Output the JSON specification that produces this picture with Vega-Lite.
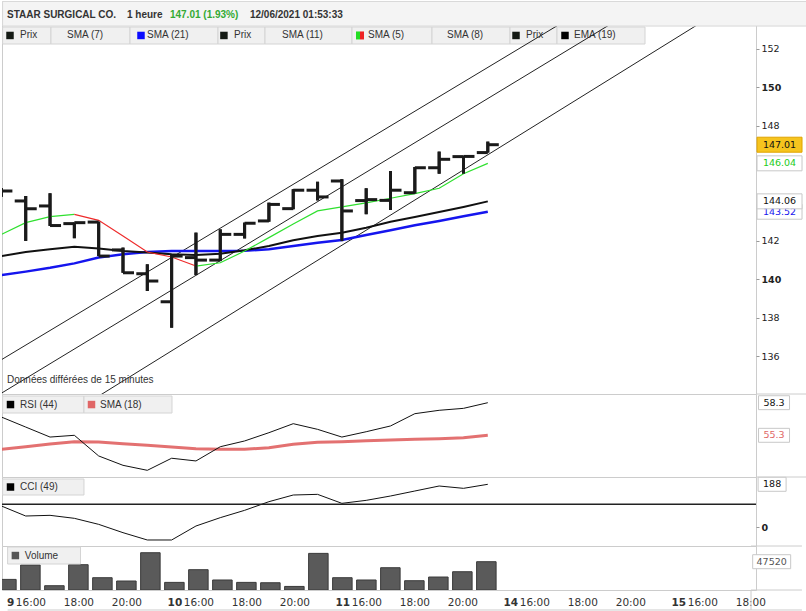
{
"$schema":"https://vega.github.io/schema/vega-lite/v6.json",
"background":"#ffffff",
"padding":0,
"spacing":0,
"bounds":"flush",
"config":{"view":{"stroke":"#cccccc"},"axis":{"grid":false},"text":{"font":"Liberation Sans"}},
"datasets":{
"ohlc":[
{"i":0,"o":144.5,"h":144.75,"l":144.3,"c":144.6},
{"i":1,"o":144.08,"h":144.34,"l":142.0,"c":143.68},
{"i":2,"o":143.82,"h":144.48,"l":142.78,"c":142.8},
{"i":3,"o":142.9,"h":142.95,"l":142.14,"c":142.95},
{"i":4,"o":142.98,"h":143.0,"l":141.21,"c":141.21},
{"i":5,"o":141.53,"h":141.65,"l":140.34,"c":140.34},
{"i":6,"o":140.29,"h":140.78,"l":139.39,"c":139.91},
{"i":7,"o":138.83,"h":141.3,"l":137.48,"c":141.21},
{"i":8,"o":141.13,"h":142.43,"l":140.22,"c":141.0},
{"i":9,"o":141.0,"h":142.6,"l":140.95,"c":142.34},
{"i":10,"o":142.34,"h":142.95,"l":142.13,"c":142.92},
{"i":11,"o":143.04,"h":143.99,"l":143.0,"c":143.9},
{"i":12,"o":143.68,"h":144.69,"l":143.65,"c":144.64},
{"i":13,"o":144.64,"h":145.08,"l":144.11,"c":144.29},
{"i":14,"o":145.12,"h":145.21,"l":141.99,"c":143.56},
{"i":15,"o":144.1,"h":144.74,"l":143.39,"c":144.15},
{"i":16,"o":144.11,"h":145.64,"l":143.61,"c":144.64},
{"i":17,"o":144.51,"h":145.85,"l":144.46,"c":145.81},
{"i":18,"o":145.81,"h":146.65,"l":145.5,"c":146.25},
{"i":19,"o":146.39,"h":146.42,"l":145.5,"c":146.4},
{"i":20,"o":146.6,"h":147.17,"l":146.6,"c":147.01}
],
"ma":[
{"i":0,"sma21":140.22,"ema19":141.21},
{"i":1,"sma21":140.4,"ema19":141.42},
{"i":2,"sma21":140.6,"ema19":141.56},
{"i":3,"sma21":140.83,"ema19":141.7},
{"i":4,"sma21":141.13,"ema19":141.61},
{"i":5,"sma21":141.3,"ema19":141.47},
{"i":6,"sma21":141.42,"ema19":141.39},
{"i":7,"sma21":141.47,"ema19":141.3},
{"i":8,"sma21":141.47,"ema19":141.27},
{"i":9,"sma21":141.47,"ema19":141.33},
{"i":10,"sma21":141.49,"ema19":141.51},
{"i":11,"sma21":141.56,"ema19":141.73},
{"i":12,"sma21":141.73,"ema19":142.03},
{"i":13,"sma21":141.9,"ema19":142.26},
{"i":14,"sma21":142.05,"ema19":142.43},
{"i":15,"sma21":142.31,"ema19":142.69},
{"i":16,"sma21":142.55,"ema19":143.0},
{"i":17,"sma21":142.81,"ema19":143.24},
{"i":18,"sma21":143.04,"ema19":143.5},
{"i":19,"sma21":143.28,"ema19":143.77},
{"i":20,"sma21":143.52,"ema19":144.06}
],
"sma5":[
{"seg":"g1","i":0,"v":142.34},{"seg":"g1","i":1,"v":142.95},{"seg":"g1","i":2,"v":143.26},{"seg":"g1","i":3,"v":143.38},
{"seg":"r","i":3,"v":143.38},{"seg":"r","i":4,"v":143.07},{"seg":"r","i":5,"v":142.26},{"seg":"r","i":6,"v":141.42},{"seg":"r","i":7,"v":141.16},{"seg":"r","i":8,"v":140.69},
{"seg":"g2","i":8,"v":140.69},{"seg":"g2","i":9,"v":140.86},{"seg":"g2","i":10,"v":141.47},{"seg":"g2","i":11,"v":142.17},{"seg":"g2","i":12,"v":142.88},{"seg":"g2","i":13,"v":143.56},{"seg":"g2","i":14,"v":143.77},{"seg":"g2","i":15,"v":143.98},{"seg":"g2","i":16,"v":144.22},{"seg":"g2","i":17,"v":144.46},{"seg":"g2","i":18,"v":144.74},{"seg":"g2","i":19,"v":145.5},{"seg":"g2","i":20,"v":146.04}
],
"chan":[
{"line":"U","i":-1,"p":135.05},{"line":"U","i":24,"p":154.08},
{"line":"M","i":-1,"p":133.3},{"line":"M","i":26,"p":154.02},
{"line":"L","i":-1,"p":129.99},{"line":"L","i":30,"p":154.34}
],
"ind":[
{"i":0,"rsi":56.98,"rsisma":54.01,"cci":92.5,"vol":17800},
{"i":1,"rsi":56.06,"rsisma":54.25,"cci":48.4,"vol":42000},
{"i":2,"rsi":55.14,"rsisma":54.5,"cci":51.4,"vol":7200},
{"i":3,"rsi":55.3,"rsisma":54.71,"cci":38.2,"vol":42500},
{"i":4,"rsi":53.4,"rsisma":54.68,"cci":11.7,"vol":20650},
{"i":5,"rsi":52.54,"rsisma":54.53,"cci":-24.9,"vol":15100},
{"i":6,"rsi":52.08,"rsisma":54.38,"cci":-57.2,"vol":62600},
{"i":7,"rsi":53.19,"rsisma":54.22,"cci":-57.2,"vol":12800},
{"i":8,"rsi":52.94,"rsisma":54.07,"cci":4.4,"vol":34100},
{"i":9,"rsi":54.25,"rsisma":54.01,"cci":41.1,"vol":16800},
{"i":10,"rsi":54.78,"rsisma":54.01,"cci":73.4,"vol":12800},
{"i":11,"rsi":55.54,"rsisma":54.16,"cci":111.5,"vol":12200},
{"i":12,"rsi":56.37,"rsisma":54.47,"cci":140.9,"vol":6000},
{"i":13,"rsi":55.85,"rsisma":54.66,"cci":143.8,"vol":61500},
{"i":14,"rsi":55.14,"rsisma":54.71,"cci":104.2,"vol":20650},
{"i":15,"rsi":55.63,"rsisma":54.8,"cci":117.4,"vol":16800},
{"i":16,"rsi":56.16,"rsisma":54.87,"cci":136.5,"vol":37400},
{"i":17,"rsi":57.29,"rsisma":54.93,"cci":158.5,"vol":15600},
{"i":18,"rsi":57.6,"rsisma":54.99,"cci":180.5,"vol":21800},
{"i":19,"rsi":57.78,"rsisma":55.08,"cci":170.3,"vol":30700},
{"i":20,"rsi":58.3,"rsisma":55.3,"cci":188,"vol":47520}
]
},
"vconcat":[
{
"width":754,"height":393,
"layer":[
{"data":{"name":"ohlc"},"mark":{"type":"rule","clip":true,"color":"#1a1a1a","strokeWidth":3},"encoding":{"x":{"field":"i","type":"quantitative","scale":{"domain":[0.025,31.028],"nice":false,"zero":false},"axis":null},"y":{"field":"l","type":"quantitative","scale":{"domain":[134.026,154.495],"nice":false,"zero":false},"axis":{"orient":"right","values":[136,138,140,142,148,150,152],"title":null,"grid":false,"domain":false,"tickSize":3,"tickColor":"#999999","labelPadding":2,"labelFont":"DejaVu Sans","labelFontSize":9.5,"labelColor":"#222222","labelFontWeight":{"condition":{"test":"datum.value % 10 == 0","value":"bold"},"value":"normal"}}},"y2":{"field":"h"}}},
{"data":{"values":[{}]},"layer":[
{"mark":{"type":"rect","fill":"#f0f0f0","stroke":"#d4d4d4","strokeWidth":1},"encoding":{"x":{"datum":0.05,"type":"quantitative","axis":null},"x2":{"datum":2.039},"y":{"datum":153.14,"type":"quantitative"},"y2":{"datum":152.255}}},
{"mark":{"type":"rect","fill":"#f0f0f0","stroke":"#d4d4d4","strokeWidth":1},"encoding":{"x":{"datum":2.039,"type":"quantitative","axis":null},"x2":{"datum":5.288},"y":{"datum":153.14,"type":"quantitative"},"y2":{"datum":152.255}}},
{"mark":{"type":"rect","fill":"#f0f0f0","stroke":"#d4d4d4","strokeWidth":1},"encoding":{"x":{"datum":5.288,"type":"quantitative","axis":null},"x2":{"datum":8.906},"y":{"datum":153.14,"type":"quantitative"},"y2":{"datum":152.255}}},
{"mark":{"type":"rect","fill":"#f0f0f0","stroke":"#d4d4d4","strokeWidth":1},"encoding":{"x":{"datum":8.906,"type":"quantitative","axis":null},"x2":{"datum":10.839},"y":{"datum":153.14,"type":"quantitative"},"y2":{"datum":152.255}}},
{"mark":{"type":"rect","fill":"#f0f0f0","stroke":"#d4d4d4","strokeWidth":1},"encoding":{"x":{"datum":10.839,"type":"quantitative","axis":null},"x2":{"datum":14.416},"y":{"datum":153.14,"type":"quantitative"},"y2":{"datum":152.255}}},
{"mark":{"type":"rect","fill":"#f0f0f0","stroke":"#d4d4d4","strokeWidth":1},"encoding":{"x":{"datum":14.416,"type":"quantitative","axis":null},"x2":{"datum":17.706},"y":{"datum":153.14,"type":"quantitative"},"y2":{"datum":152.255}}},
{"mark":{"type":"rect","fill":"#f0f0f0","stroke":"#d4d4d4","strokeWidth":1},"encoding":{"x":{"datum":17.706,"type":"quantitative","axis":null},"x2":{"datum":20.913},"y":{"datum":153.14,"type":"quantitative"},"y2":{"datum":152.255}}},
{"mark":{"type":"rect","fill":"#f0f0f0","stroke":"#d4d4d4","strokeWidth":1},"encoding":{"x":{"datum":20.913,"type":"quantitative","axis":null},"x2":{"datum":22.845},"y":{"datum":153.14,"type":"quantitative"},"y2":{"datum":152.255}}},
{"mark":{"type":"rect","fill":"#f0f0f0","stroke":"#d4d4d4","strokeWidth":1},"encoding":{"x":{"datum":22.845,"type":"quantitative","axis":null},"x2":{"datum":26.464},"y":{"datum":153.14,"type":"quantitative"},"y2":{"datum":152.255}}}
]},
{"data":{"name":"chan"},"mark":{"type":"line","clip":true,"color":"#222222","strokeWidth":1},"encoding":{"x":{"field":"i","type":"quantitative","scale":{"domain":[0.025,31.028],"nice":false,"zero":false},"axis":null},"y":{"field":"p","type":"quantitative","scale":{"domain":[134.026,154.495],"nice":false,"zero":false}},"detail":{"field":"line"}}},
{"data":{"name":"ma"},"mark":{"type":"line","clip":true,"color":"#1515ee","strokeWidth":2.5},"encoding":{"x":{"field":"i","type":"quantitative","scale":{"domain":[0.025,31.028],"nice":false,"zero":false},"axis":null},"y":{"field":"sma21","type":"quantitative","scale":{"domain":[134.026,154.495],"nice":false,"zero":false}}}},
{"data":{"name":"ma"},"mark":{"type":"line","clip":true,"color":"#111111","strokeWidth":2},"encoding":{"x":{"field":"i","type":"quantitative","scale":{"domain":[0.025,31.028],"nice":false,"zero":false},"axis":null},"y":{"field":"ema19","type":"quantitative","scale":{"domain":[134.026,154.495],"nice":false,"zero":false}}}},
{"data":{"name":"sma5"},"mark":{"type":"line","clip":true,"strokeWidth":1.2},"encoding":{"x":{"field":"i","type":"quantitative","scale":{"domain":[0.025,31.028],"nice":false,"zero":false},"axis":null},"y":{"field":"v","type":"quantitative","scale":{"domain":[134.026,154.495],"nice":false,"zero":false}},"color":{"field":"seg","type":"nominal","scale":{"domain":["g1","r","g2"],"range":["#2fe02f","#ee2b2b","#2fe02f"]},"legend":null}}},
{"data":{"name":"ohlc"},"mark":{"type":"rule","clip":true,"color":"#1a1a1a","strokeWidth":3},"encoding":{"x":{"field":"i","type":"quantitative","scale":{"domain":[0.025,31.028],"nice":false,"zero":false},"axis":null},"y":{"field":"l","type":"quantitative","scale":{"domain":[134.026,154.495],"nice":false,"zero":false}},"y2":{"field":"h"}}},
{"data":{"name":"ohlc"},"mark":{"type":"tick","orient":"horizontal","clip":true,"color":"#1a1a1a","opacity":1,"size":11,"thickness":3,"xOffset":-5.5},"encoding":{"x":{"field":"i","type":"quantitative","scale":{"domain":[0.025,31.028],"nice":false,"zero":false},"axis":null},"y":{"field":"o","type":"quantitative","scale":{"domain":[134.026,154.495],"nice":false,"zero":false}}}},
{"data":{"name":"ohlc"},"mark":{"type":"tick","orient":"horizontal","clip":true,"color":"#1a1a1a","opacity":1,"size":11,"thickness":3,"xOffset":5.5},"encoding":{"x":{"field":"i","type":"quantitative","scale":{"domain":[0.025,31.028],"nice":false,"zero":false},"axis":null},"y":{"field":"c","type":"quantitative","scale":{"domain":[134.026,154.495],"nice":false,"zero":false}}}},
{"data":{"values":[{}]},"layer":[
{"mark":{"type":"square","size":56,"color":"#141a14","opacity":1},"encoding":{"x":{"datum":0.354,"type":"quantitative","axis":null},"y":{"datum":152.7,"type":"quantitative"}}},
{"mark":{"type":"square","size":56,"color":"#0a0aff","opacity":1},"encoding":{"x":{"datum":5.74,"type":"quantitative","axis":null},"y":{"datum":152.7,"type":"quantitative"}}},
{"mark":{"type":"square","size":56,"color":"#141a14","opacity":1},"encoding":{"x":{"datum":9.15,"type":"quantitative","axis":null},"y":{"datum":152.7,"type":"quantitative"}}},
{"mark":{"type":"point","shape":"M-1,-1H0V1H-1Z","size":64,"filled":true,"color":"#22dd22","opacity":1},"encoding":{"x":{"datum":14.745,"type":"quantitative","axis":null},"y":{"datum":152.7,"type":"quantitative"}}},
{"mark":{"type":"point","shape":"M0,-1H1V1H0Z","size":64,"filled":true,"color":"#ee2222","opacity":1},"encoding":{"x":{"datum":14.745,"type":"quantitative","axis":null},"y":{"datum":152.7,"type":"quantitative"}}},
{"mark":{"type":"square","size":56,"color":"#141a14","opacity":1},"encoding":{"x":{"datum":21.16,"type":"quantitative","axis":null},"y":{"datum":152.7,"type":"quantitative"}}},
{"mark":{"type":"square","size":56,"color":"#000000","opacity":1},"encoding":{"x":{"datum":23.174,"type":"quantitative","axis":null},"y":{"datum":152.7,"type":"quantitative"}}},
{"mark":{"type":"text","text":"Prix","align":"left","baseline":"middle","fontSize":10,"color":"#333333"},"encoding":{"x":{"datum":0.765,"type":"quantitative","axis":null},"y":{"datum":152.7,"type":"quantitative"}}},
{"mark":{"type":"text","text":"SMA (7)","align":"left","baseline":"middle","fontSize":10,"color":"#333333"},"encoding":{"x":{"datum":2.697,"type":"quantitative","axis":null},"y":{"datum":152.7,"type":"quantitative"}}},
{"mark":{"type":"text","text":"SMA (21)","align":"left","baseline":"middle","fontSize":10,"color":"#333333"},"encoding":{"x":{"datum":5.987,"type":"quantitative","axis":null},"y":{"datum":152.7,"type":"quantitative"}}},
{"mark":{"type":"text","text":"Prix","align":"left","baseline":"middle","fontSize":10,"color":"#333333"},"encoding":{"x":{"datum":9.564,"type":"quantitative","axis":null},"y":{"datum":152.7,"type":"quantitative"}}},
{"mark":{"type":"text","text":"SMA (11)","align":"left","baseline":"middle","fontSize":10,"color":"#333333"},"encoding":{"x":{"datum":11.538,"type":"quantitative","axis":null},"y":{"datum":152.7,"type":"quantitative"}}},
{"mark":{"type":"text","text":"SMA (5)","align":"left","baseline":"middle","fontSize":10,"color":"#333333"},"encoding":{"x":{"datum":15.074,"type":"quantitative","axis":null},"y":{"datum":152.7,"type":"quantitative"}}},
{"mark":{"type":"text","text":"SMA (8)","align":"left","baseline":"middle","fontSize":10,"color":"#333333"},"encoding":{"x":{"datum":18.322,"type":"quantitative","axis":null},"y":{"datum":152.7,"type":"quantitative"}}},
{"mark":{"type":"text","text":"Prix","align":"left","baseline":"middle","fontSize":10,"color":"#333333"},"encoding":{"x":{"datum":21.57,"type":"quantitative","axis":null},"y":{"datum":152.7,"type":"quantitative"}}},
{"mark":{"type":"text","text":"EMA (19)","align":"left","baseline":"middle","fontSize":10,"color":"#333333"},"encoding":{"x":{"datum":23.544,"type":"quantitative","axis":null},"y":{"datum":152.7,"type":"quantitative"}}},
{"mark":{"type":"rect","fill":"#f4f4f4","stroke":"#d8d8d8","strokeWidth":1},"encoding":{"x":{"datum":0.05,"type":"quantitative","axis":null},"x2":{"datum":33.15},"y":{"datum":153.19,"type":"quantitative"},"y2":{"datum":154.47}}},
{"mark":{"type":"text","text":"STAAR SURGICAL CO.","align":"left","baseline":"middle","fontSize":10,"fontWeight":"bold","color":"#333333"},"encoding":{"x":{"datum":0.23,"type":"quantitative","axis":null},"y":{"datum":153.766,"type":"quantitative"}}},
{"mark":{"type":"text","text":"1 heure","align":"left","baseline":"middle","fontSize":10,"fontWeight":"bold","color":"#333333"},"encoding":{"x":{"datum":5.165,"type":"quantitative","axis":null},"y":{"datum":153.766,"type":"quantitative"}}},
{"mark":{"type":"text","text":"147.01 (1.93%)","align":"left","baseline":"middle","fontSize":10,"fontWeight":"bold","color":"#33aa33"},"encoding":{"x":{"datum":6.93,"type":"quantitative","axis":null},"y":{"datum":153.766,"type":"quantitative"}}},
{"mark":{"type":"text","text":"12/06/2021 01:53:33","align":"left","baseline":"middle","fontSize":10,"fontWeight":"bold","color":"#333333"},"encoding":{"x":{"datum":10.22,"type":"quantitative","axis":null},"y":{"datum":153.766,"type":"quantitative"}}},
{"mark":{"type":"text","text":"Données différées de 15 minutes","align":"left","baseline":"middle","fontSize":10,"color":"#333333"},"encoding":{"x":{"datum":0.23,"type":"quantitative","axis":null},"y":{"datum":134.755,"type":"quantitative"}}}
]},
{"data":{"name":"ma"},"transform":[{"filter":"datum.i == 20"}],"layer":[
{"mark":{"type":"point","shape":"M-1,-0.333H1V0.333H-1Z","size":2025,"filled":true,"color":"#ffffff","stroke":"#c8c8c8","strokeWidth":1,"opacity":1},"encoding":{"x":{"datum":31.995,"type":"quantitative","axis":null},"y":{"field":"sma21","type":"quantitative"}}},
{"mark":{"type":"text","font":"DejaVu Sans","fontSize":9.5,"color":"#1515ee"},"encoding":{"x":{"datum":31.995,"type":"quantitative","axis":null},"y":{"field":"sma21","type":"quantitative"},"text":{"field":"sma21","format":".2f"}}},
{"mark":{"type":"point","shape":"M-1,-0.333H1V0.333H-1Z","size":2025,"filled":true,"color":"#ffffff","stroke":"#c8c8c8","strokeWidth":1,"opacity":1},"encoding":{"x":{"datum":31.995,"type":"quantitative","axis":null},"y":{"field":"ema19","type":"quantitative"}}},
{"mark":{"type":"text","font":"DejaVu Sans","fontSize":9.5,"color":"#111111"},"encoding":{"x":{"datum":31.995,"type":"quantitative","axis":null},"y":{"field":"ema19","type":"quantitative"},"text":{"field":"ema19","format":".2f"}}}
]},
{"data":{"name":"sma5"},"transform":[{"filter":"datum.i == 20"}],"layer":[
{"mark":{"type":"point","shape":"M-1,-0.333H1V0.333H-1Z","size":2025,"filled":true,"color":"#ffffff","stroke":"#c8c8c8","strokeWidth":1,"opacity":1},"encoding":{"x":{"datum":31.995,"type":"quantitative","axis":null},"y":{"field":"v","type":"quantitative"}}},
{"mark":{"type":"text","font":"DejaVu Sans","fontSize":9.5,"color":"#22cc22"},"encoding":{"x":{"datum":31.995,"type":"quantitative","axis":null},"y":{"field":"v","type":"quantitative"},"text":{"field":"v","format":".2f"}}}
]},
{"data":{"name":"ohlc"},"transform":[{"filter":"datum.i == 20"}],"layer":[
{"mark":{"type":"point","shape":"M-1,-0.333H1V0.333H-1Z","size":2025,"filled":true,"color":"#f6c41e","stroke":"#e0a400","strokeWidth":1,"opacity":1},"encoding":{"x":{"datum":31.995,"type":"quantitative","axis":null},"y":{"field":"c","type":"quantitative"}}},
{"mark":{"type":"text","font":"DejaVu Sans","fontSize":9.5,"color":"#111111"},"encoding":{"x":{"datum":31.995,"type":"quantitative","axis":null},"y":{"field":"c","type":"quantitative"},"text":{"field":"c","format":".2f"}}}
]}
]
},
{
"width":754,"height":83,
"data":{"name":"ind"},
"layer":[
{"mark":{"type":"line","clip":true,"color":"#e06262","strokeWidth":3,"opacity":0.9},"encoding":{"x":{"field":"i","type":"quantitative","scale":{"domain":[0.025,31.028],"nice":false,"zero":false},"axis":null},"y":{"field":"rsisma","type":"quantitative","scale":{"domain":[51.465,59.1],"nice":false,"zero":false},"axis":null}}},
{"mark":{"type":"line","clip":true,"color":"#111111","strokeWidth":1},"encoding":{"x":{"field":"i","type":"quantitative","scale":{"domain":[0.025,31.028],"nice":false,"zero":false},"axis":null},"y":{"field":"rsi","type":"quantitative","scale":{"domain":[51.465,59.1],"nice":false,"zero":false},"axis":null}}},
{"data":{"values":[{}]},"layer":[
{"mark":{"type":"rule","color":"#cccccc","strokeWidth":1},"encoding":{"x":{"datum":31.028,"type":"quantitative","axis":null},"x2":{"datum":33.15},"y":{"datum":59.1,"type":"quantitative","axis":null}}},
{"mark":{"type":"rect","fill":"#f0f0f0","stroke":"#d4d4d4","strokeWidth":1},"encoding":{"x":{"datum":0.05,"type":"quantitative","axis":null},"x2":{"datum":3.396},"y":{"datum":58.916,"type":"quantitative","axis":null},"y2":{"datum":57.35}}},
{"mark":{"type":"rect","fill":"#f0f0f0","stroke":"#d4d4d4","strokeWidth":1},"encoding":{"x":{"datum":3.396,"type":"quantitative","axis":null},"x2":{"datum":7.015},"y":{"datum":58.916,"type":"quantitative","axis":null},"y2":{"datum":57.35}}},
{"mark":{"type":"square","size":56,"color":"#000000","opacity":1},"encoding":{"x":{"datum":0.374,"type":"quantitative","axis":null},"y":{"datum":58.13,"type":"quantitative","axis":null}}},
{"mark":{"type":"square","size":56,"color":"#e06666","opacity":1},"encoding":{"x":{"datum":3.705,"type":"quantitative","axis":null},"y":{"datum":58.13,"type":"quantitative","axis":null}}},
{"mark":{"type":"text","text":"RSI (44)","align":"left","baseline":"middle","fontSize":10,"color":"#333333"},"encoding":{"x":{"datum":0.765,"type":"quantitative","axis":null},"y":{"datum":58.13,"type":"quantitative","axis":null}}},
{"mark":{"type":"text","text":"SMA (18)","align":"left","baseline":"middle","fontSize":10,"color":"#333333"},"encoding":{"x":{"datum":4.054,"type":"quantitative","axis":null},"y":{"datum":58.13,"type":"quantitative","axis":null}}}
]},
{"transform":[{"filter":"datum.i == 20"}],"layer":[
{"mark":{"type":"point","shape":"M-1,-0.45H1V0.45H-1Z","size":961,"filled":true,"color":"#ffffff","stroke":"#c8c8c8","strokeWidth":1,"opacity":1},"encoding":{"x":{"datum":31.77,"type":"quantitative","axis":null},"y":{"field":"rsi","type":"quantitative","axis":null}}},
{"mark":{"type":"text","font":"DejaVu Sans","fontSize":9.5,"color":"#111111"},"encoding":{"x":{"datum":31.77,"type":"quantitative","axis":null},"y":{"field":"rsi","type":"quantitative","axis":null},"text":{"field":"rsi","format":".1f"}}},
{"mark":{"type":"point","shape":"M-1,-0.45H1V0.45H-1Z","size":961,"filled":true,"color":"#ffffff","stroke":"#c8c8c8","strokeWidth":1,"opacity":1},"encoding":{"x":{"datum":31.77,"type":"quantitative","axis":null},"y":{"field":"rsisma","type":"quantitative","axis":null}}},
{"mark":{"type":"text","font":"DejaVu Sans","fontSize":9.5,"color":"#e06666"},"encoding":{"x":{"datum":31.77,"type":"quantitative","axis":null},"y":{"field":"rsisma","type":"quantitative","axis":null},"text":{"field":"rsisma","format":".1f"}}}
]}
]
},
{
"width":754,"height":69,
"data":{"name":"ind"},
"layer":[
{"mark":{"type":"line","clip":true,"color":"#111111","strokeWidth":1},"encoding":{"x":{"field":"i","type":"quantitative","scale":{"domain":[0.025,31.028],"nice":false,"zero":false},"axis":null},"y":{"field":"cci","type":"quantitative","scale":{"domain":[-83.66,220.2],"nice":false,"zero":false},"axis":{"orient":"right","values":[0],"title":null,"grid":false,"domain":false,"tickSize":3,"tickColor":"#999999","labelPadding":2,"labelFont":"DejaVu Sans","labelFontSize":9.5,"labelFontWeight":"bold","labelColor":"#222222"}}}},
{"data":{"values":[{}]},"mark":{"type":"rule","color":"#222222","strokeWidth":1.5},"encoding":{"y":{"datum":100,"type":"quantitative"}}},
{"data":{"values":[{}]},"layer":[
{"mark":{"type":"rule","color":"#cccccc","strokeWidth":1},"encoding":{"x":{"datum":31.028,"type":"quantitative","axis":null},"x2":{"datum":33.15},"y":{"datum":220.2,"type":"quantitative"}}},
{"mark":{"type":"rect","fill":"#f0f0f0","stroke":"#d4d4d4","strokeWidth":1},"encoding":{"x":{"datum":0.05,"type":"quantitative","axis":null},"x2":{"datum":3.396},"y":{"datum":211.4,"type":"quantitative"},"y2":{"datum":140.9}}},
{"mark":{"type":"square","size":56,"color":"#000000","opacity":1},"encoding":{"x":{"datum":0.374,"type":"quantitative","axis":null},"y":{"datum":176.1,"type":"quantitative"}}},
{"mark":{"type":"text","text":"CCI (49)","align":"left","baseline":"middle","fontSize":10,"color":"#333333"},"encoding":{"x":{"datum":0.765,"type":"quantitative","axis":null},"y":{"datum":176.1,"type":"quantitative"}}}
]},
{"transform":[{"filter":"datum.i == 20"}],"layer":[
{"mark":{"type":"point","shape":"M-1,-0.5H1V0.5H-1Z","size":784,"filled":true,"color":"#ffffff","stroke":"#c8c8c8","strokeWidth":1,"opacity":1},"encoding":{"x":{"datum":31.69,"type":"quantitative","axis":null},"y":{"field":"cci","type":"quantitative"}}},
{"mark":{"type":"text","font":"DejaVu Sans","fontSize":9.5,"color":"#111111"},"encoding":{"x":{"datum":31.69,"type":"quantitative","axis":null},"y":{"field":"cci","type":"quantitative"},"text":{"field":"cci","format":"d"}}}
]}
]
},
{
"width":754,"height":44,
"data":{"name":"ind"},
"layer":[
{"mark":{"type":"bar","orient":"vertical","clip":true,"width":19.5,"fill":"#5a5a5a","stroke":"#3a3a3a","strokeWidth":1},"encoding":{"x":{"field":"i","type":"quantitative","scale":{"domain":[0.025,31.028],"nice":false,"zero":false},"axis":{"values":[0,1,3,5,7,8,10,12,14,15,17,19,21,22,24,26,28,29,31],"labelExpr":"datum.value % 7 == 0 ? ['9','10','11','14','15'][datum.value / 7] : (datum.value % 7 == 1 ? '16:00' : (datum.value % 7 == 3 ? '18:00' : '20:00'))","labelFontWeight":{"condition":{"test":"datum.value % 7 == 0","value":"bold"},"value":"normal"},"labelAlign":{"condition":{"test":"datum.value == 0","value":"left"},"value":"center"},"ticks":false,"domain":false,"grid":false,"labelPadding":7,"labelFont":"DejaVu Sans","labelFontSize":10.5,"labelColor":"#333333","labelOverlap":false,"labelBound":false,"labelFlush":false,"title":null}},"y":{"field":"vol","type":"quantitative","scale":{"domain":[0,73900],"nice":false,"zero":false},"axis":null}}},
{"data":{"values":[{}]},"layer":[
{"mark":{"type":"rule","color":"#cccccc","strokeWidth":1},"encoding":{"x":{"datum":31.028,"type":"quantitative"},"x2":{"datum":33.15},"y":{"datum":73900,"type":"quantitative","axis":null}}},
{"mark":{"type":"rule","color":"#cccccc","strokeWidth":1},"encoding":{"x":{"datum":31.028,"type":"quantitative"},"x2":{"datum":33.15},"y":{"datum":0,"type":"quantitative","axis":null}}},
{"mark":{"type":"rule","color":"#cccccc","strokeWidth":1},"encoding":{"x":{"datum":0.05,"type":"quantitative"},"x2":{"datum":33.15},"y":{"datum":-33590,"type":"quantitative","axis":null}}},
{"mark":{"type":"rule","color":"#cccccc","strokeWidth":1},"encoding":{"x":{"datum":31.028,"type":"quantitative"},"y":{"datum":0,"type":"quantitative","axis":null},"y2":{"datum":-33590}}},
{"mark":{"type":"rect","fill":"#f0f0f0","stroke":"#d4d4d4","strokeWidth":1},"encoding":{"x":{"datum":0.05,"type":"quantitative"},"x2":{"datum":3.088},"y":{"datum":72200,"type":"quantitative","axis":null},"y2":{"datum":43650}}},
{"mark":{"type":"square","size":56,"color":"#555555","opacity":1},"encoding":{"x":{"datum":0.374,"type":"quantitative"},"y":{"datum":57900,"type":"quantitative","axis":null}}},
{"mark":{"type":"text","text":"Volume","align":"left","baseline":"middle","fontSize":10,"color":"#333333"},"encoding":{"x":{"datum":0.765,"type":"quantitative"},"y":{"datum":57900,"type":"quantitative","axis":null}}}
]},
{"transform":[{"filter":"datum.i == 20"}],"layer":[
{"mark":{"type":"point","shape":"M-1,-0.368H1V0.368H-1Z","size":1444,"filled":true,"color":"#ffffff","stroke":"#c8c8c8","strokeWidth":1,"opacity":1},"encoding":{"x":{"datum":31.89,"type":"quantitative"},"y":{"field":"vol","type":"quantitative","axis":null}}},
{"mark":{"type":"text","font":"DejaVu Sans","fontSize":9.5,"color":"#555555"},"encoding":{"x":{"datum":31.89,"type":"quantitative"},"y":{"field":"vol","type":"quantitative","axis":null},"text":{"field":"vol","format":"d"}}}
]}
]
}
]
}
